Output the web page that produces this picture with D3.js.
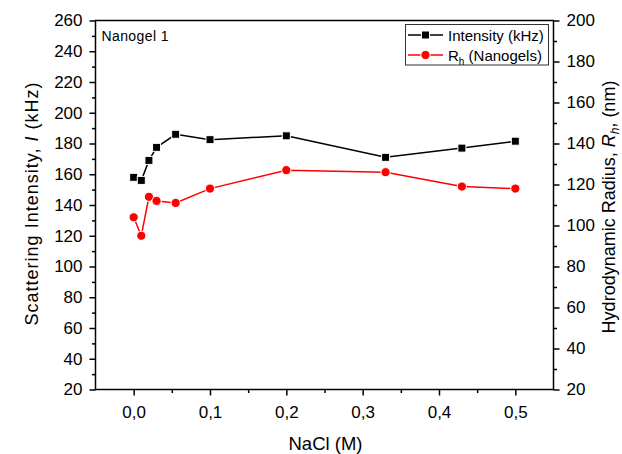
<!DOCTYPE html>
<html>
<head>
<meta charset="utf-8">
<script src="https://cdn.jsdelivr.net/npm/d3@7"></script>
<style>
  html, body { margin: 0; padding: 0; background: #fff; }
  svg { display: block; font-family: "Liberation Sans", Arial, sans-serif; }
</style>
</head>
<body>
<svg id="chart" width="622" height="454"></svg>
<script>
// NaCl concentration series (M)
const nacl = [0, 0.01, 0.02, 0.03, 0.055, 0.1, 0.2, 0.33, 0.43, 0.5];
// Scattering intensity (kHz), left axis
const intensity = [158, 156, 169, 177.5, 186, 182.5, 185, 171, 177, 181.5];
// Hydrodynamic radius (nm), right axis
const radius = [104, 95, 114, 112, 111, 118, 127, 126, 119, 118];

const xTicks = [0, 0.1, 0.2, 0.3, 0.4, 0.5];
const xMinor = [0.05, 0.15, 0.25, 0.35, 0.45];
const leftTicks = [20, 40, 60, 80, 100, 120, 140, 160, 180, 200, 220, 240, 260];
const leftMinor = [30, 50, 70, 90, 110, 130, 150, 170, 190, 210, 230, 250];
const rightTicks = [20, 40, 60, 80, 100, 120, 140, 160, 180, 200];
const rightMinor = [30, 50, 70, 90, 110, 130, 150, 170, 190];

const svg = d3.select("#chart");
const L = 95.5, R = 553.5, T = 20.5, B = 389.5;

const x = d3.scaleLinear().domain([-0.05, 0.55]).range([L, R]);
const yL = d3.scaleLinear().domain([20, 260]).range([B, T]);
const yR = d3.scaleLinear().domain([20, 200]).range([B, T]);

const fmtX = d => d3.format(".1f")(d).replace(".", ",");

function styleAxis(g) {
  g.select(".domain").remove();
  g.selectAll("line").attr("stroke", "#000").attr("stroke-width", 1.5);
  g.selectAll("text").attr("fill", "#000").style("font-size", "17px");
}

// minor ticks first (no labels)
svg.append("g").attr("transform", `translate(0,${B})`)
  .call(d3.axisBottom(x).tickValues(xMinor).tickSize(3.5).tickFormat(""))
  .call(styleAxis);
svg.append("g").attr("transform", `translate(${L},0)`)
  .call(d3.axisLeft(yL).tickValues(leftMinor).tickSize(3.5).tickFormat(""))
  .call(styleAxis);
svg.append("g").attr("transform", `translate(${R},0)`)
  .call(d3.axisRight(yR).tickValues(rightMinor).tickSize(3.5).tickFormat(""))
  .call(styleAxis);

// major ticks with labels
svg.append("g").attr("transform", `translate(0,${B})`)
  .call(d3.axisBottom(x).tickValues(xTicks).tickSize(6).tickPadding(10).tickFormat(fmtX))
  .call(styleAxis);
svg.append("g").attr("transform", `translate(${L},0)`)
  .call(d3.axisLeft(yL).tickValues(leftTicks).tickSize(6).tickPadding(7).tickFormat(d3.format("d")))
  .call(styleAxis);
svg.append("g").attr("transform", `translate(${R},0)`)
  .call(d3.axisRight(yR).tickValues(rightTicks).tickSize(6).tickPadding(7).tickFormat(d3.format("d")))
  .call(styleAxis);

// plot frame
svg.append("rect")
  .attr("x", L).attr("y", T).attr("width", R - L).attr("height", B - T)
  .attr("fill", "none").attr("stroke", "#000").attr("stroke-width", 1.5);

// series lines
const lineI = d3.line().x((d, i) => x(nacl[i])).y(d => yL(d));
const lineR = d3.line().x((d, i) => x(nacl[i])).y(d => yR(d));

svg.append("path").datum(intensity).attr("d", lineI)
  .attr("fill", "none").attr("stroke", "#000").attr("stroke-width", 1.5);
svg.append("path").datum(radius).attr("d", lineR)
  .attr("fill", "none").attr("stroke", "#ff0000").attr("stroke-width", 1.5);

// markers
const sq = 8;
svg.append("g").selectAll("rect").data(intensity).join("rect")
  .attr("x", (d, i) => x(nacl[i]) - sq / 2)
  .attr("y", d => yL(d) - sq / 2)
  .attr("width", sq).attr("height", sq)
  .attr("fill", "#000").attr("stroke", "#fff").attr("stroke-width", 1);
svg.append("g").selectAll("circle").data(radius).join("circle")
  .attr("cx", (d, i) => x(nacl[i]))
  .attr("cy", d => yR(d))
  .attr("r", 4.6)
  .attr("fill", "#ff0000").attr("stroke", "#fff").attr("stroke-width", 1);

// axis titles
svg.append("text")
  .attr("x", 325.5).attr("y", 450)
  .attr("text-anchor", "middle")
  .style("font-size", "18.5px")
  .text("NaCl (M)");

const lt = svg.append("text")
  .attr("transform", "translate(38,204) rotate(-90)")
  .attr("text-anchor", "middle")
  .attr("textLength", 243).attr("lengthAdjust", "spacing")
  .style("font-size", "18px");
lt.append("tspan").text("Scattering Intensity, ");
lt.append("tspan").style("font-style", "italic").text("I");
lt.append("tspan").text(" (kHz)");

const rt = svg.append("text")
  .attr("transform", "translate(615,207) rotate(-90)")
  .attr("text-anchor", "middle")
  .style("font-size", "18px");
rt.append("tspan").text("Hydrodynamic Radius, ");
rt.append("tspan").style("font-style", "italic").text("R");
rt.append("tspan").style("font-style", "italic").style("font-size", "12px").attr("dy", 4).text("h");
rt.append("tspan").attr("dy", -4).text(", (nm)");

// panel label
svg.append("text")
  .attr("x", 101.5).attr("y", 40.5)
  .attr("textLength", 67).attr("lengthAdjust", "spacing")
  .style("font-size", "14px")
  .text("Nanogel 1");

// legend
const lg = svg.append("g");
lg.append("rect")
  .attr("x", 405.5).attr("y", 24.5).attr("width", 143).attr("height", 40.5)
  .attr("fill", "#fff").attr("stroke", "#333").attr("stroke-width", 1);

const legendRows = [
  { y: 35, color: "#000", shape: "square" },
  { y: 55, color: "#ff0000", shape: "circle" }
];
legendRows.forEach(r => {
  lg.append("line").attr("x1", 408).attr("x2", 443).attr("y1", r.y).attr("y2", r.y)
    .attr("stroke", r.color).attr("stroke-width", 1.5);
  if (r.shape === "square") {
    lg.append("rect").attr("x", 425.5 - sq / 2).attr("y", r.y - sq / 2)
      .attr("width", sq).attr("height", sq).attr("fill", r.color)
      .attr("stroke", "#fff").attr("stroke-width", 1);
  } else {
    lg.append("circle").attr("cx", 425.5).attr("cy", r.y).attr("r", 4.6)
      .attr("fill", r.color).attr("stroke", "#fff").attr("stroke-width", 1);
  }
});
lg.append("text").attr("x", 448).attr("y", 40.5).style("font-size", "15px")
  .text("Intensity (kHz)");
const lt2 = lg.append("text").attr("x", 448).attr("y", 60.5).style("font-size", "15px");
lt2.append("tspan").text("R");
lt2.append("tspan").style("font-size", "10px").attr("dy", 4).text("h");
lt2.append("tspan").attr("dy", -4).text(" (Nanogels)");
</script>
</body>
</html>
